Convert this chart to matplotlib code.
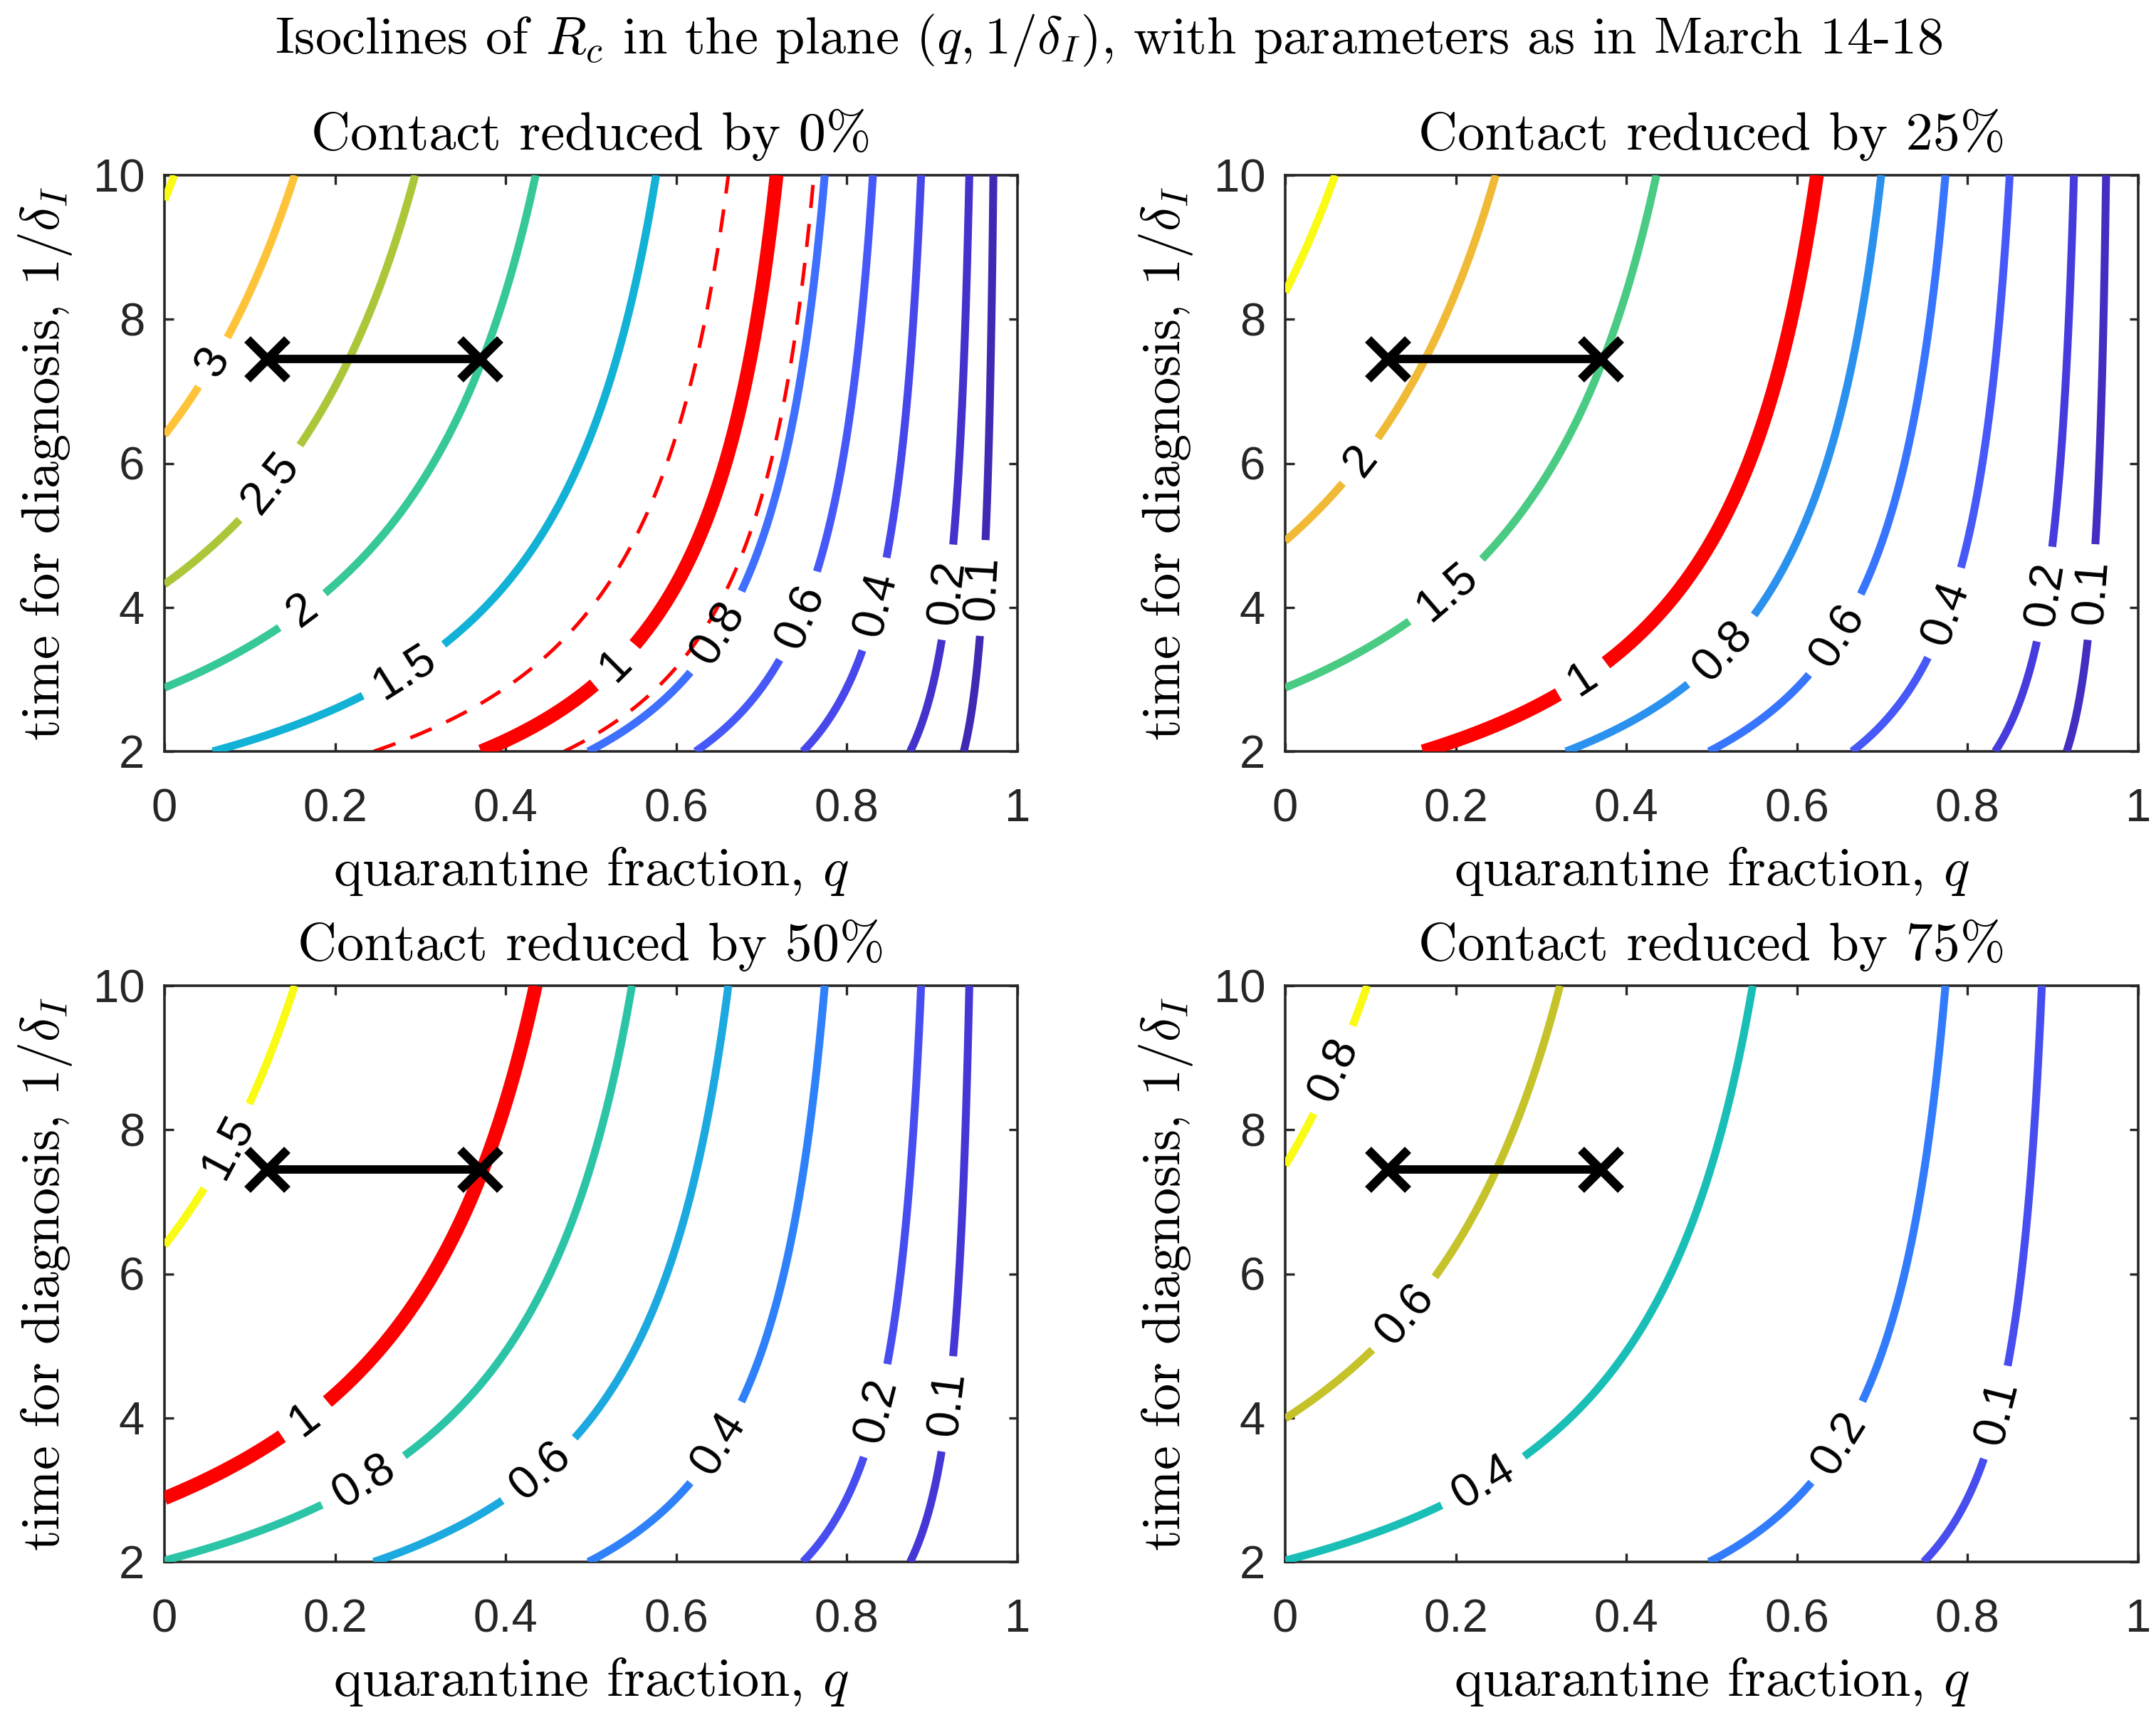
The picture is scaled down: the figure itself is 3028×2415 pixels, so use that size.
import numpy as np
import matplotlib
matplotlib.use('Agg')
import matplotlib.pyplot as plt
from matplotlib.colors import ListedColormap

# ---------------- data ----------------
contact_reduction = [0, 25, 50, 75]          # percent
q_range = [0.0, 1.0]                          # quarantine fraction
tau_range = [2.0, 10.0]                       # time for diagnosis 1/delta_I
# R_c model: R_c = (1-c)(1-q)(a + b*tau/(1+g*tau))
rc_a = 0.127
rc_b = 1.024
rc_g = 0.2

levels_by_panel = [
    [0.1, 0.2, 0.4, 0.6, 0.8, 1.5, 2, 2.5, 3, 3.5],
    [0.1, 0.2, 0.4, 0.6, 0.8, 1.5, 2, 2.5],
    [0.1, 0.2, 0.4, 0.6, 0.8, 1.5],
    [0.1, 0.2, 0.4, 0.6, 0.8],
]
threshold_level = 1.0
has_threshold = [True, True, True, False]
dashed_levels = [0.845, 1.2]                  # only first panel

label_pos = [
    [(0.059, 7.39), (0.128, 5.69), (0.165, 3.90), (0.281, 3.11), (0.648, 3.65),
     (0.746, 3.87), (0.834, 4.04), (0.918, 4.21), (0.957, 4.27)],
    [(0.092, 6.0), (0.188, 4.24), (0.513, 3.39), (0.649, 3.59), (0.772, 3.93),
     (0.892, 4.18), (0.948, 4.21)],
    [(0.075, 7.76), (0.234, 3.11), (0.439, 3.28), (0.648, 3.65), (0.834, 4.1),
     (0.921, 4.19)],
    [(0.055, 8.84), (0.138, 5.46), (0.231, 3.14), (0.649, 3.65), (0.832, 4.08)],
]
threshold_label_pos = [(0.528, 3.20), (0.351, 2.96), (0.166, 3.96), None]

marker_q = [0.12, 0.37]
marker_tau = [7.45, 7.45]

xticks = [0, 0.2, 0.4, 0.6, 0.8, 1]
xticklabels = ['0', '0.2', '0.4', '0.6', '0.8', '1']
yticks = [2, 4, 6, 8, 10]
yticklabels = ['2', '4', '6', '8', '10']

main_title = r'Isoclines of $R_c$ in the plane $(q,1/\delta_I)$, with parameters as in March 14-18'
xlabel = r'quarantine fraction, $q$'
ylabel = r'time for diagnosis, $1/\delta_I$'

# parula colormap (64 entries)
parula_data = [
    [0.2422, 0.1504, 0.6603], [0.2504, 0.1650, 0.7076], [0.2578, 0.1818, 0.7511],
    [0.2647, 0.1978, 0.7952], [0.2706, 0.2147, 0.8364], [0.2751, 0.2342, 0.8710],
    [0.2783, 0.2559, 0.8991], [0.2803, 0.2782, 0.9221], [0.2813, 0.3006, 0.9414],
    [0.2810, 0.3228, 0.9579], [0.2795, 0.3447, 0.9717], [0.2760, 0.3667, 0.9829],
    [0.2699, 0.3892, 0.9906], [0.2602, 0.4123, 0.9952], [0.2440, 0.4358, 0.9988],
    [0.2206, 0.4603, 0.9973], [0.1963, 0.4847, 0.9892], [0.1834, 0.5074, 0.9798],
    [0.1786, 0.5289, 0.9682], [0.1764, 0.5499, 0.9520], [0.1687, 0.5703, 0.9359],
    [0.1540, 0.5902, 0.9218], [0.1460, 0.6091, 0.9079], [0.1380, 0.6276, 0.8973],
    [0.1248, 0.6459, 0.8883], [0.1113, 0.6635, 0.8763], [0.0952, 0.6798, 0.8598],
    [0.0689, 0.6948, 0.8394], [0.0297, 0.7082, 0.8163], [0.0036, 0.7203, 0.7917],
    [0.0067, 0.7312, 0.7660], [0.0433, 0.7411, 0.7394], [0.0964, 0.7500, 0.7120],
    [0.1408, 0.7584, 0.6842], [0.1717, 0.7670, 0.6554], [0.1938, 0.7758, 0.6251],
    [0.2161, 0.7843, 0.5923], [0.2470, 0.7918, 0.5567], [0.2906, 0.7973, 0.5188],
    [0.3406, 0.8008, 0.4789], [0.3909, 0.8029, 0.4354], [0.4456, 0.8024, 0.3909],
    [0.5044, 0.7993, 0.3480], [0.5616, 0.7942, 0.3045], [0.6174, 0.7876, 0.2612],
    [0.6720, 0.7793, 0.2227], [0.7242, 0.7698, 0.1910], [0.7738, 0.7598, 0.1646],
    [0.8203, 0.7498, 0.1535], [0.8634, 0.7406, 0.1596], [0.9035, 0.7330, 0.1774],
    [0.9393, 0.7288, 0.2100], [0.9728, 0.7298, 0.2394], [0.9956, 0.7434, 0.2371],
    [0.9970, 0.7659, 0.2199], [0.9952, 0.7893, 0.2028], [0.9892, 0.8136, 0.1885],
    [0.9786, 0.8386, 0.1766], [0.9676, 0.8639, 0.1643], [0.9610, 0.8890, 0.1537],
    [0.9597, 0.9135, 0.1423], [0.9628, 0.9373, 0.1265], [0.9691, 0.9606, 0.1064],
    [0.9769, 0.9839, 0.0805],
]
parula = ListedColormap(parula_data, name='parula')

# ---------------- style ----------------
plt.rcParams['font.family'] = ['Liberation Sans', 'DejaVu Sans']
plt.rcParams['mathtext.fontset'] = 'cm'
SERIF = 'cmr10'
TXT = 55
TICK = 47

W, H = 3028, 2415
fig = plt.figure(figsize=(W / 100, H / 100), dpi=100)

ax_px = [(231, 246), (1805, 246), (231, 1384), (1805, 1384)]   # left, top in px
aw, ah = 1198, 809

qq = np.linspace(q_range[0], q_range[1], 1001)
tt = np.linspace(tau_range[0], tau_range[1], 1001)
Q, T = np.meshgrid(qq, tt)

def fmt(v):
    return '%g' % v

for i, c in enumerate(contact_reduction):
    l, t = ax_px[i]
    ax = fig.add_axes([l / W, 1 - (t + ah) / H, aw / W, ah / H])
    R = (1 - c / 100) * (1 - Q) * (rc_a + rc_b * T / (1 + rc_g * T))
    levs = levels_by_panel[i]
    vmax = max(levs + ([threshold_level] if has_threshold[i] else []))
    cols = [parula(min(int(lv / vmax * 64), 63)) for lv in levs]

    if i == 0:
        ax.contour(Q, T, R, levels=dashed_levels, colors='#ff0000',
                   linewidths=3.6, linestyles=[(0, (6.5, 4.5))], zorder=2)

    cs = ax.contour(Q, T, R, levels=levs, colors=cols, linewidths=8.0, zorder=3)
    ax.clabel(cs, inline=True, fontsize=TICK, fmt=fmt, colors='k',
              manual=label_pos[i], inline_spacing=22)

    if has_threshold[i]:
        cr = ax.contour(Q, T, R, levels=[threshold_level], colors='#ff0000',
                        linewidths=14, zorder=4)
        ax.clabel(cr, inline=True, fontsize=TICK, fmt=fmt, colors='k',
                  manual=[threshold_label_pos[i]], inline_spacing=22)

    ax.plot(marker_q, marker_tau, color='k', lw=8.5, zorder=6)
    ax.plot(marker_q, marker_tau, 'x', color='k', ms=40, mew=9, zorder=7)

    ax.set_xlim(q_range)
    ax.set_ylim(tau_range)
    ax.set_xticks(xticks)
    ax.set_xticklabels(xticklabels)
    ax.set_yticks(yticks)
    ax.set_yticklabels(yticklabels)
    ax.tick_params(direction='in', length=9, width=2.4, labelsize=TICK,
                   top=True, right=True, color='#262626', labelcolor='#262626')
    ax.tick_params(axis='x', pad=37)
    ax.tick_params(axis='y', pad=20)
    for s in ax.spines.values():
        s.set_linewidth(2.6)
        s.set_color('#262626')

    ax.set_title('Contact reduced by %d%%' % c, fontfamily=SERIF, fontsize=TXT,
                 pad=26, color='k')
    ax.set_xlabel(xlabel, fontfamily=SERIF, fontsize=TXT, va='center')
    ax.xaxis.set_label_coords(0.5, -168 / ah)
    ax.set_ylabel(ylabel, fontfamily=SERIF, fontsize=TXT, va='center')
    ax.yaxis.set_label_coords(-167 / aw, 0.5)

fig.text(1557 / W, 1 - 56 / H, main_title, ha='center', va='center',
         fontfamily=SERIF, fontsize=53.5)

fig.savefig('out.png', dpi=100, facecolor='white')
